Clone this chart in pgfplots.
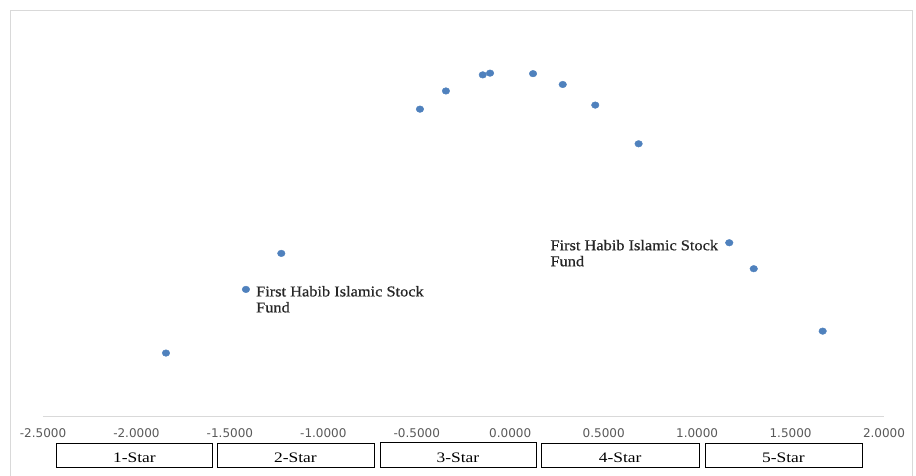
\documentclass[border=0pt]{standalone}
\usepackage{fontspec}
\setmainfont{Liberation Serif}
\newfontfamily\annfont{Liberation Serif}[FakeStretch=1.09, FakeBold=0.6]
\newfontfamily\boxfont{Liberation Serif}[FakeStretch=1.2]
\newfontfamily\tickfont{DejaVu Sans}
\usepackage{pgfplots}
\pgfplotsset{compat=1.18}
\usepackage{pgfplotstable}

\definecolor{markblue}{HTML}{4F81BD}
\definecolor{ticktext}{HTML}{595959}
\definecolor{frame}{HTML}{D9D9D9}
\definecolor{anntext}{HTML}{262626}

% standardised scores of the funds and their density
\pgfplotstableread{
x      y
-1.842 0.0733
-1.414 0.1468
-1.225 0.1884
-0.483 0.3550
-0.344 0.3760
-0.147 0.3946
-0.108 0.3966
 0.122 0.3960
 0.281 0.3835
 0.455 0.3597
 0.687 0.3150
 1.172 0.2007
 1.303 0.1707
 1.672 0.0986
}\scores

\begin{document}
\begin{tikzpicture}
% page size first, so that nothing drawn later widens it
\useasboundingbox (-43pt,-58.5pt) rectangle (873pt,416.5pt);
\draw[frame, line width=1pt] (-32pt,-70pt) -- (-32pt,405.5pt) -- (869.7pt,405.5pt) -- (869.7pt,-70pt);
\begin{axis}[
    scale only axis,
    width=841pt, height=389.6pt,
    xmin=-2.5, xmax=2.0, ymin=0, ymax=0.45,
    clip=false,
    axis y line=none,
    axis x line*=bottom,
    x axis line style={-, draw=frame, line width=1.2pt},
    xtick={-2.5,-2,-1.5,-1,-0.5,0,0.5,1,1.5,2},
    major tick length=0pt,
    xticklabel style={
        /pgf/number format/.cd, fixed, fixed zerofill, precision=4,
        assume math mode=true, /tikz/.cd,
        font=\tickfont\fontsize{12}{14}\selectfont,
        text=ticktext, anchor=base, yshift=-20.5pt,
    },
]
\addplot[only marks, mark=*, mark size=3.3pt,
    mark options={draw=markblue, fill=markblue, xscale=1.15}]
    table[x=x, y=y] {\scores};

% annotations for First Habib Islamic Stock Fund
\begin{scope}[every node/.style={inner sep=0pt, text=anntext,
        font=\annfont\fontsize{15}{16}\selectfont}]
\node[anchor=base west] (l1) at ([xshift=10pt, yshift=-7pt]axis cs:-1.414,0.1468)
    {First Habib Islamic Stock};
\node[anchor=base west] at ([yshift=-16pt]l1.base west) {Fund};
\node[anchor=base east] (r1) at ([xshift=-11pt, yshift=-7.5pt]axis cs:1.172,0.2007)
    {First Habib Islamic Stock};
\node[anchor=base west] at ([yshift=-16pt]r1.base west) {Fund};
\end{scope}

% star-rating boxes under the axis
\begin{scope}[every node/.style={inner sep=0pt,
        font=\boxfont\fontsize{14.5}{16}\selectfont}]
\draw[line width=0.9pt] (axis cs:-2.430,-0.03095) rectangle (axis cs:-1.592,-0.05867);
\draw[line width=0.9pt] (axis cs:-1.569,-0.03095) rectangle (axis cs:-0.729,-0.05867);
\draw[line width=0.9pt] (axis cs:-0.697,-0.02950) rectangle (axis cs:0.138,-0.05867);
\draw[line width=0.9pt] (axis cs:0.165,-0.03095) rectangle (axis cs:1.010,-0.05867);
\draw[line width=0.9pt] (axis cs:1.042,-0.03095) rectangle (axis cs:1.882,-0.05867);
\node[anchor=base] at (axis cs:-2.011,-0.05336) {1-Star};
\node[anchor=base] at (axis cs:-1.149,-0.05336) {2-Star};
\node[anchor=base] at (axis cs:-0.280,-0.05336) {3-Star};
\node[anchor=base] at (axis cs:0.588,-0.05336) {4-Star};
\node[anchor=base] at (axis cs:1.462,-0.05336) {5-Star};
\end{scope}
\end{axis}
\end{tikzpicture}
\end{document}
